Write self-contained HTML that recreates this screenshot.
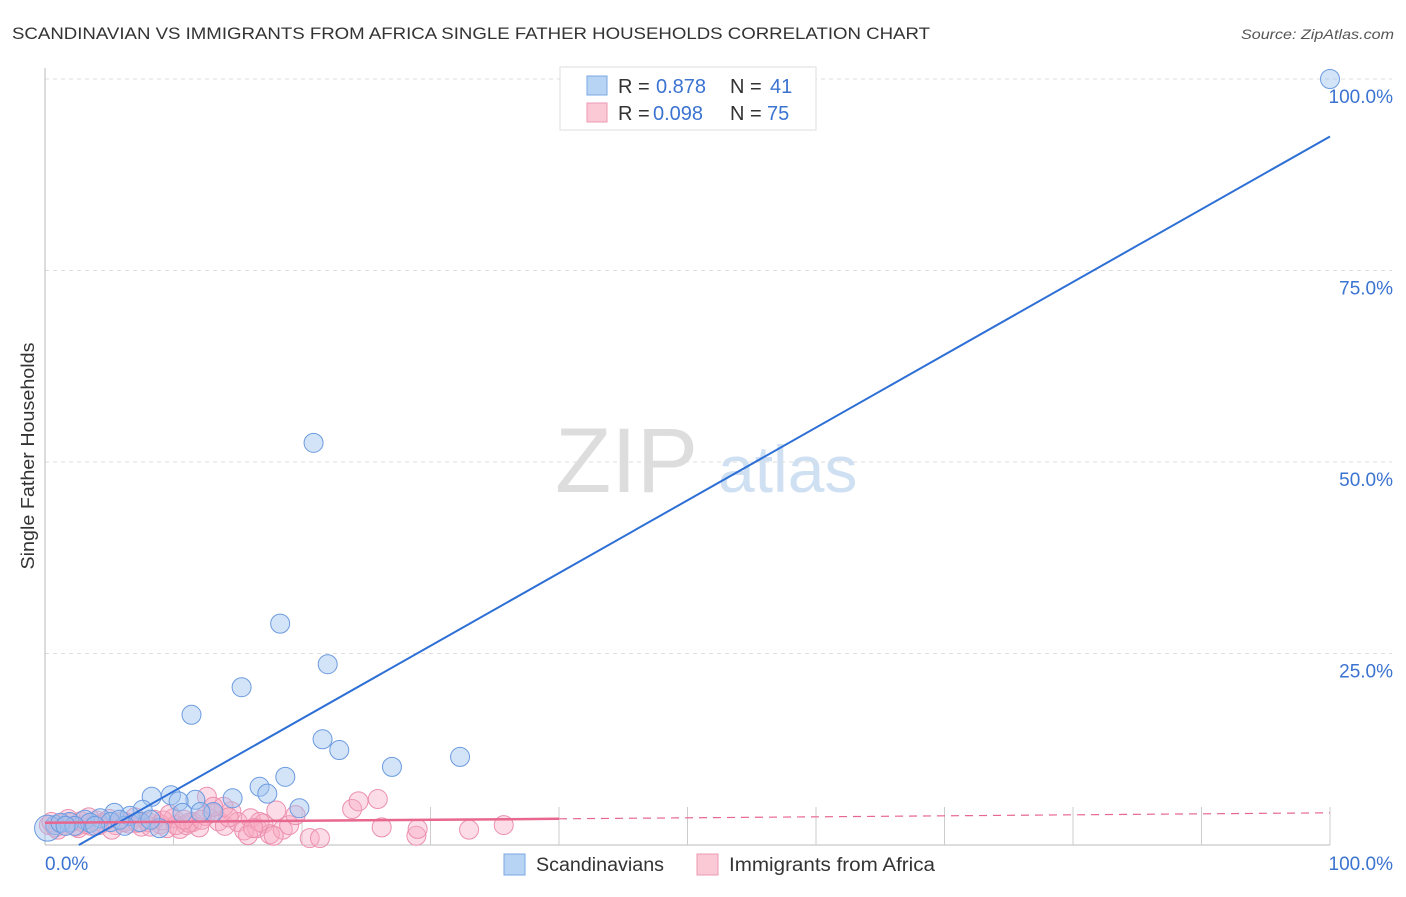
<!DOCTYPE html>
<html><head><meta charset="utf-8"><style>
body{margin:0;background:#fff;font-family:"Liberation Sans",sans-serif;}
svg text{font-family:"Liberation Sans",sans-serif;}
</style></head><body>
<svg id="chart" width="1406" height="892" viewBox="0 0 1406 892" xmlns="http://www.w3.org/2000/svg">
<text x="12" y="39" font-size="17" fill="#333" textLength="918" lengthAdjust="spacingAndGlyphs">SCANDINAVIAN VS IMMIGRANTS FROM AFRICA SINGLE FATHER HOUSEHOLDS CORRELATION CHART</text>
<text x="1394" y="39" font-size="14" fill="#555" text-anchor="end" font-style="italic" textLength="153" lengthAdjust="spacingAndGlyphs">Source: ZipAtlas.com</text>
<text transform="translate(34,456) rotate(-90)" font-size="18" fill="#333" text-anchor="middle" textLength="227" lengthAdjust="spacingAndGlyphs">Single Father Households</text>
<g><text x="555" y="492" font-size="92" fill="#ddd" font-family="Liberation Serif">ZIP</text><text x="718" y="492" font-size="66" fill="#cfe0f3">atlas</text></g>
<g id="grid"></g><g id="pts"></g><g id="lines"></g>
<g>
<rect x="560" y="67" width="256" height="63" fill="#fff" stroke="#ddd"/>
<rect x="587" y="76" width="20" height="19" fill="#b8d4f5" stroke="#7aa8e3"/>
<text x="618" y="93" font-size="20" fill="#333">R =</text><text x="656" y="93" font-size="20" fill="#3b73d1">0.878</text>
<text x="730" y="93" font-size="20" fill="#333">N =</text><text x="770" y="93" font-size="20" fill="#3b73d1">41</text>
<rect x="587" y="103" width="20" height="19" fill="#fbc8d6" stroke="#ee99b2"/>
<text x="618" y="120" font-size="20" fill="#333">R =</text><text x="653" y="120" font-size="20" fill="#3b73d1">0.098</text>
<text x="730" y="120" font-size="20" fill="#333">N =</text><text x="767" y="120" font-size="20" fill="#3b73d1">75</text>
</g>
<g>
<rect x="504" y="854" width="21" height="21" fill="#b8d4f5" stroke="#7aa8e3"/>
<text x="536" y="871" font-size="19" fill="#333" textLength="128" lengthAdjust="spacingAndGlyphs">Scandinavians</text>
<rect x="697" y="854" width="21" height="21" fill="#fbc8d6" stroke="#ee99b2"/>
<text x="729" y="871" font-size="19" fill="#333" textLength="206" lengthAdjust="spacingAndGlyphs">Immigrants from Africa</text>
</g>
</svg>
<script>
const yTicks=[25,50,75,100];
const yTickLabels=["25.0%","50.0%","75.0%","100.0%"];
const xEndLabels=["0.0%","100.0%"];
const blueX=[100,20.9,18.3,22.0,15.3,11.4,21.6,22.9,32.3,27.0,18.7,16.7,17.3,14.6,8.3,9.8,11.7,10.4,19.8,13.1,7.6,5.4,10.7,8.9,6.6,4.3,3.1,1.9,0.8,0.2,1.2,3.5,5.1,7.4,6.2,8.2,2.3,3.9,1.6,12.1,5.8];
const blueY=[100,52.5,28.9,23.6,20.6,17.0,13.8,12.4,11.5,10.2,8.9,7.6,6.7,6.1,6.3,6.5,5.9,5.7,4.8,4.3,4.6,4.2,4.2,2.2,3.8,3.5,3.3,3.0,2.6,2.2,2.9,2.9,3.0,3.0,2.5,3.3,2.5,2.5,2.5,4.3,3.3];
const pinkX=[0.3,0.8,1.2,1.6,2.0,2.4,2.8,3.2,3.6,4.0,4.5,5.0,5.5,6.0,6.5,7.0,7.5,8.0,8.5,9.0,9.5,10.0,10.5,11.0,11.5,12.0,12.5,13.0,13.5,14.0,14.5,15.0,15.5,16.0,16.5,17.0,17.5,18.0,18.5,19.0,0.5,1.0,1.8,2.6,3.4,4.2,5.2,6.2,7.2,8.2,9.2,10.2,11.2,12.2,12.6,13.9,14.3,15.8,16.7,17.8,19.5,20.6,21.4,23.9,24.4,25.9,26.2,28.9,29.0,33.0,35.7,9.7,10.8,13.1,16.2];
const pinkY=[2.6,2.3,2.8,2.5,2.9,2.4,3.1,2.7,2.5,3.2,2.9,3.4,2.6,3.1,2.8,3.6,2.4,3.0,3.3,2.7,2.2,3.5,2.1,2.6,3.0,2.3,3.8,4.2,3.1,2.5,4.4,3.0,1.9,3.5,2.2,2.8,1.4,4.5,2.0,2.6,3.0,2.0,3.4,2.2,3.6,2.6,2.0,3.0,2.9,2.4,3.2,2.6,2.9,3.3,6.3,5.0,3.6,1.3,3.0,1.2,3.9,0.9,0.9,4.7,5.7,6.0,2.3,1.2,2.1,2.0,2.6,4.0,3.3,5.0,2.2];
const blueFit=[-2.5,92.5];
const pinkFit=[2.9,4.2];
const X0=45,X1=1330,Y0=845,Y1=79;
const sx=v=>X0+(X1-X0)*v/100, sy=v=>Y0-(Y0-Y1)*v/100;
const NS="http://www.w3.org/2000/svg";
function mk(t,a,p){const e=document.createElementNS(NS,t);for(const k in a)e.setAttribute(k,a[k]);p.appendChild(e);return e;}
const g=document.getElementById('grid');
yTicks.forEach((t,i)=>{
 const l=mk('line',{x1:X0,x2:1392,y1:sy(t),y2:sy(t),stroke:'#ddd','stroke-dasharray':'4,4'},g);
 
 
 const tx=mk('text',{x:1393,y:sy(t)+24,'font-size':19,fill:'#3b73d1','text-anchor':'end'},g);
 tx.textContent=yTickLabels[i];
 
 
});
const ax=mk('line',{x1:X0,x2:X0,y1:68,y2:Y0,stroke:'#bbb'},g);


const bx=mk('line',{x1:X0,x2:X1,y1:Y0,y2:Y0,stroke:'#bbb'},g);


for(let i=1;i<=10;i++){const tk=mk('line',{x1:sx(i*10),x2:sx(i*10),y1:Y0,y2:Y0-38,stroke:'#ccc'},g);
 
 }
const xl0=mk('text',{x:45,y:870,'font-size':19,fill:'#3b73d1'},g);xl0.textContent=xEndLabels[0];


const xl1=mk('text',{x:1393,y:870,'font-size':19,fill:'#3b73d1','text-anchor':'end'},g);xl1.textContent=xEndLabels[1];


const pg=document.getElementById('pts');
pinkX.forEach((x,i)=>{const c=mk('circle',{cx:sx(x),cy:sy(pinkY[i]),r:9.5,fill:'rgba(248,170,195,0.4)',stroke:'#ec8fae','stroke-width':1},pg);
 
 });
blueX.forEach((x,i)=>{const c=mk('circle',{cx:sx(x),cy:sy(blueY[i]),r:i==29?13:9.5,fill:'rgba(160,195,240,0.45)',stroke:'#6c9be0','stroke-width':1},pg);
 
 });
const lg=document.getElementById('lines');
const bxs=-blueFit[0]/((blueFit[1]-blueFit[0])/100);
const bl=mk('line',{x1:sx(bxs),y1:sy(0),x2:sx(100),y2:sy(blueFit[1]),stroke:'#2d6fd6','stroke-width':2},lg);


const py=x=>pinkFit[0]+(pinkFit[1]-pinkFit[0])*x/100;
const pl=mk('line',{x1:sx(0),y1:sy(py(0)),x2:sx(40),y2:sy(py(40)),stroke:'#e8678f','stroke-width':2.5},lg);


const pd=mk('line',{x1:sx(40),y1:sy(py(40)),x2:sx(100),y2:sy(py(100)),stroke:'#e8678f','stroke-width':1.2,'stroke-dasharray':'8,6'},lg);


</script>
</body></html>
